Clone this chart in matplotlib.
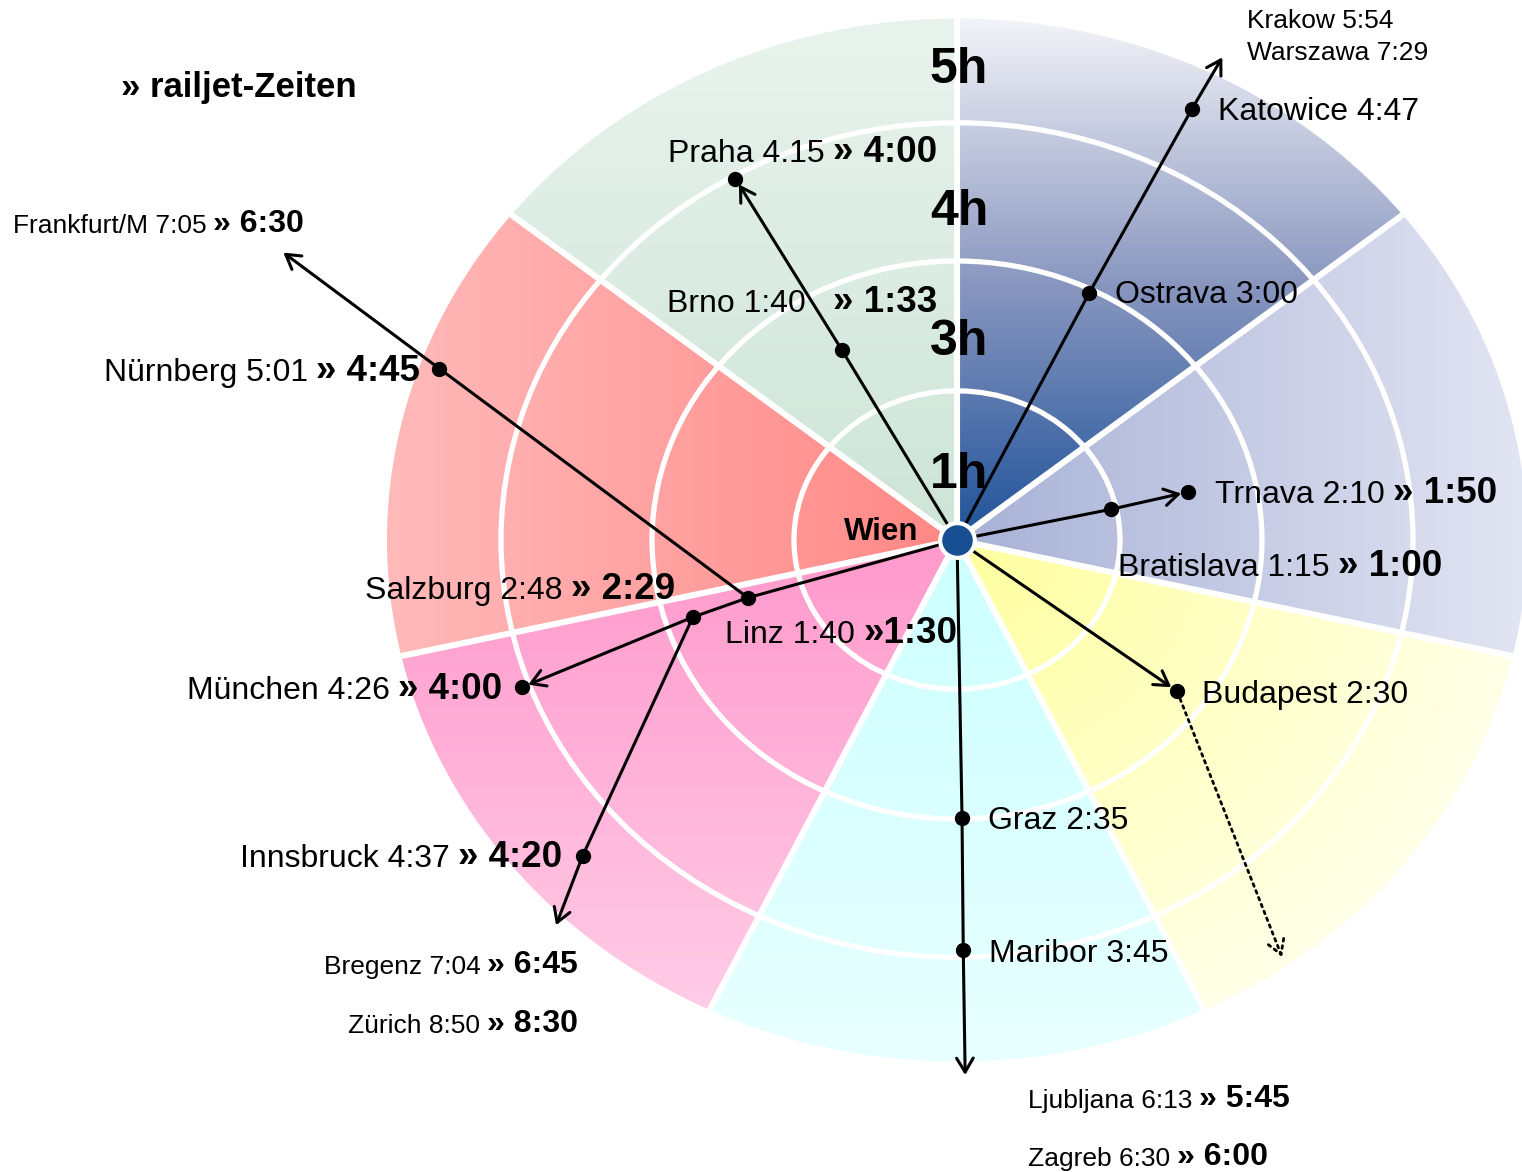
import numpy as np
import matplotlib
matplotlib.use('Agg')
import matplotlib.pyplot as plt
from matplotlib.patches import Wedge, Circle
from matplotlib.colors import to_rgb

plt.rcParams['font.family'] = ['Liberation Sans', 'DejaVu Sans']

# radial scale of the chart: white rings at 1h, 3h, 4h, rim at 5h
ring_hours = [0, 1, 3, 4, 5]
ring_radius = [0, 0.286, 0.535, 0.80, 1.0]
ring_labels = ['1h', '3h', '4h', '5h']

# seven coloured sectors, counter-clockwise starting at north
sector_edges = 90 + np.arange(8) * 360 / 7
sector_inner = ['#cde4d7', '#ff8784', '#ff99cc', '#ccffff', '#ffff9e', '#a8b2d7', '#1f5299']
sector_mid = ['#dbece2', '#ffa1a0', '#ffb5da', '#daffff', '#ffffc3', '#c5cbe4', '#8b98c0']
sector_outer = ['#e9f3ed', '#ffbaba', '#ffd2e9', '#e9ffff', '#ffffe8', '#e2e5f3', '#f3f4f8']
sector_axis = ['y', 'x', 'y', 'y', 'r', 'x', 'y']

# places: direction seen from Wien (deg, 0 = east) and position on the hour rings
place = ['Brno', 'Praha', 'Ostrava', 'Katowice', 'Krakow', 'Bratislava', 'Trnava',
         'Budapest', 'Budapest+', 'Graz', 'Maribor', 'Ljubljana', 'Linz', 'Salzburg',
         'München', 'Innsbruck', 'Bregenz', 'Nürnberg', 'Frankfurt']
bearing = [119.0, 119.3, 63.9, 63.5, 63.3, 12.3, 12.8,
           -36.9, -54.5, -89.05, -89.2, -89.2, 196.8, 197.7,
           200.3, 222.7, 226.4, 160.1, 155.0]
hours = [2.05, 3.98, 2.94, 4.62, 5.18, 0.97, 2.04,
         2.58, 4.91, 2.98, 3.95, 5.13, 1.78, 2.61,
         4.07, 4.47, 5.10, 4.83, 6.52]
stops = ['Brno', 'Praha', 'Ostrava', 'Katowice', 'Bratislava', 'Trnava', 'Budapest',
         'Graz', 'Maribor', 'Linz', 'Salzburg', 'München', 'Innsbruck', 'Nürnberg']

# train routes; end = 'dot' arrow stops at a station, 'open' runs out of the chart
routes = [
    (['Wien', 'Brno', 'Praha'], 'dot'),
    (['Wien', 'Ostrava', 'Katowice', 'Krakow'], 'open'),
    (['Wien', 'Bratislava', 'Trnava'], 'dot'),
    (['Wien', 'Budapest'], 'dot'),
    (['Wien', 'Graz', 'Maribor', 'Ljubljana'], 'open'),
    (['Wien', 'Linz', 'Salzburg'], None),
    (['Salzburg', 'München'], 'dot'),
    (['Salzburg', 'Innsbruck', 'Bregenz'], 'open'),
    (['Linz', 'Nürnberg', 'Frankfurt'], 'open'),
]


def to_r(h):
    if h <= 5:
        return np.interp(h, ring_hours, ring_radius)
    return 1 + (h - 5) * 0.2


def xy(name):
    if name == 'Wien':
        return 0.0, 0.0
    i = place.index(name)
    r = to_r(hours[i])
    a = np.radians(bearing[i])
    return r * np.cos(a), r * np.sin(a)


W, H = 1522, 1172
CX, CY, RX, RY = 957, 540, 570, 521.5

fig = plt.figure(figsize=(W / 100, H / 100), dpi=100)
ax = fig.add_axes([0, 0, 1, 1])


def pos(px, py):
    return (px - CX) / RX, (CY - py) / RY


# sectors with colour gradients
n = 500
g = np.linspace(-1, 1, n)
X, Y = np.meshgrid(g, g)
for k in range(7):
    if sector_axis[k] == 'x':
        t = np.abs(X)
    elif sector_axis[k] == 'y':
        t = np.abs(Y)
    else:
        t = np.hypot(X, Y)
    t = np.clip(t, 0, 1)
    cols = np.array([to_rgb(sector_inner[k]), to_rgb(sector_mid[k]), to_rgb(sector_outer[k])])
    img = np.dstack([np.interp(t, [0, 0.5, 1], cols[:, c]) for c in range(3)])
    im = ax.imshow(img, extent=(-1, 1, -1, 1), origin='lower', interpolation='bilinear',
                   zorder=1)
    w = Wedge((0, 0), 1.0, sector_edges[k], sector_edges[k + 1], transform=ax.transData)
    im.set_clip_path(w)

# white separators
for r in ring_radius[1:4]:
    ax.add_patch(Circle((0, 0), r, fill=False, ec='white', lw=3.8, zorder=2))
for a in np.radians(sector_edges[:7]):
    ax.plot([0, np.cos(a)], [0, np.sin(a)], color='white', lw=4.4, zorder=2,
            solid_capstyle='butt')

# routes
for path, end in routes:
    pts = [xy(p) for p in path]
    if end is None:
        ax.plot(*zip(*pts), color='black', lw=2.2, zorder=3)
        continue
    ax.plot(*zip(*pts[:-1]), color='black', lw=2.2, zorder=3)
    ax.annotate('', xy=pts[-1], xytext=pts[-2], zorder=3,
                arrowprops=dict(arrowstyle='->,head_length=0.5,head_width=0.3',
                                mutation_scale=20, lw=2.2, color='black',
                                shrinkA=0, shrinkB=5 if end == 'dot' else 0))
ax.annotate('', xy=xy('Budapest+'), xytext=xy('Budapest'), zorder=3,
            arrowprops=dict(arrowstyle='->,head_length=0.5,head_width=0.3',
                            mutation_scale=20, lw=2, color='black', linestyle=':',
                            shrinkA=6, shrinkB=0))

sx, sy = zip(*[xy(s) for s in stops])
ax.plot(sx, sy, 'o', ms=10, color='black', zorder=4)
ax.plot(0, 0, 'o', ms=25, mfc='#174f92', mec='white', mew=3, zorder=5)

# texts
ax.text(*pos(121, 97), '» railjet-Zeiten', fontsize=25, fontweight='bold',
        ha='left', va='baseline', zorder=6)
ax.text(*pos(918, 540), 'Wien', fontsize=22.5, fontweight='bold',
        ha='right', va='baseline', zorder=6)
for lab, base in zip(ring_labels, [488, 355, 225, 83]):
    ax.text(*pos(959, base), lab, fontsize=36, fontweight='bold',
            ha='center', va='baseline', zorder=6)

labels = [
    ('Praha 4.15', '» 4:00', 668, 162, 'left', False),
    ('Brno 1:40', '', 667, 312, 'left', False),
    ('', '» 1:33', 833, 312, 'left', False),
    ('Ostrava 3:00', '', 1115, 303, 'left', False),
    ('Katowice 4:47', '', 1218, 120, 'left', False),
    ('Krakow 5:54', '', 1247, 28, 'left', True),
    ('Warszawa 7:29', '', 1247, 60, 'left', True),
    ('Trnava 2:10', '» 1:50', 1215, 503, 'left', False),
    ('Bratislava 1:15', '» 1:00', 1118, 576, 'left', False),
    ('Budapest 2:30', '', 1202, 703, 'left', False),
    ('Graz 2:35', '', 988, 829, 'left', False),
    ('Maribor 3:45', '', 989, 962, 'left', False),
    ('Ljubljana 6:13', '» 5:45', 1028, 1108, 'left', True),
    ('Zagreb 6:30', '» 6:00', 1028, 1166, 'left', True),
    ('Linz 1:40', '»1:30', 725, 643, 'left', False),
    ('Salzburg 2:48', '» 2:29', 675, 599, 'right', False),
    ('München 4:26', '» 4:00', 502, 699, 'right', False),
    ('Innsbruck 4:37', '» 4:20', 562, 867, 'right', False),
    ('Bregenz 7:04', '» 6:45', 578, 973, 'right', True),
    ('Zürich 8:50', '» 8:30', 578, 1032, 'right', True),
    ('Nürnberg 5:01', '» 4:45', 420, 381, 'right', False),
    ('Frankfurt/M 7:05', '» 6:30', 304, 232, 'right', True),
]

for normal, bold, x, base, ha, small in labels:
    fs_n, fs_b, gap = (19, 23, 5) if small else (23, 26.5, 6)
    if not bold:
        ax.text(*pos(x, base), normal, fontsize=fs_n, ha=ha, va='baseline', zorder=6)
        continue
    if not normal:
        ax.text(*pos(x, base), bold, fontsize=fs_b, fontweight='bold', ha=ha,
                va='baseline', zorder=6)
        continue
    if ha == 'left':
        t1 = ax.text(*pos(x, base), normal, fontsize=fs_n, ha='left', va='baseline', zorder=6)
        ax.annotate(bold, xy=(1, 0), xycoords=t1, xytext=(gap, -1),
                    textcoords='offset points', fontsize=fs_b, fontweight='bold',
                    ha='left', va='bottom', zorder=6)
    else:
        t2 = ax.text(*pos(x, base), bold, fontsize=fs_b, fontweight='bold', ha='right',
                     va='baseline', zorder=6)
        ax.annotate(normal, xy=(0, 0), xycoords=t2, xytext=(-gap, 1),
                    textcoords='offset points', fontsize=fs_n,
                    ha='right', va='bottom', zorder=6)

ax.set_xlim(pos(0, 0)[0], pos(W, 0)[0])
ax.set_ylim(pos(0, H)[1], pos(0, 0)[1])
ax.set_aspect('auto')
ax.axis('off')

fig.savefig('out.png', dpi=100, facecolor='white')
